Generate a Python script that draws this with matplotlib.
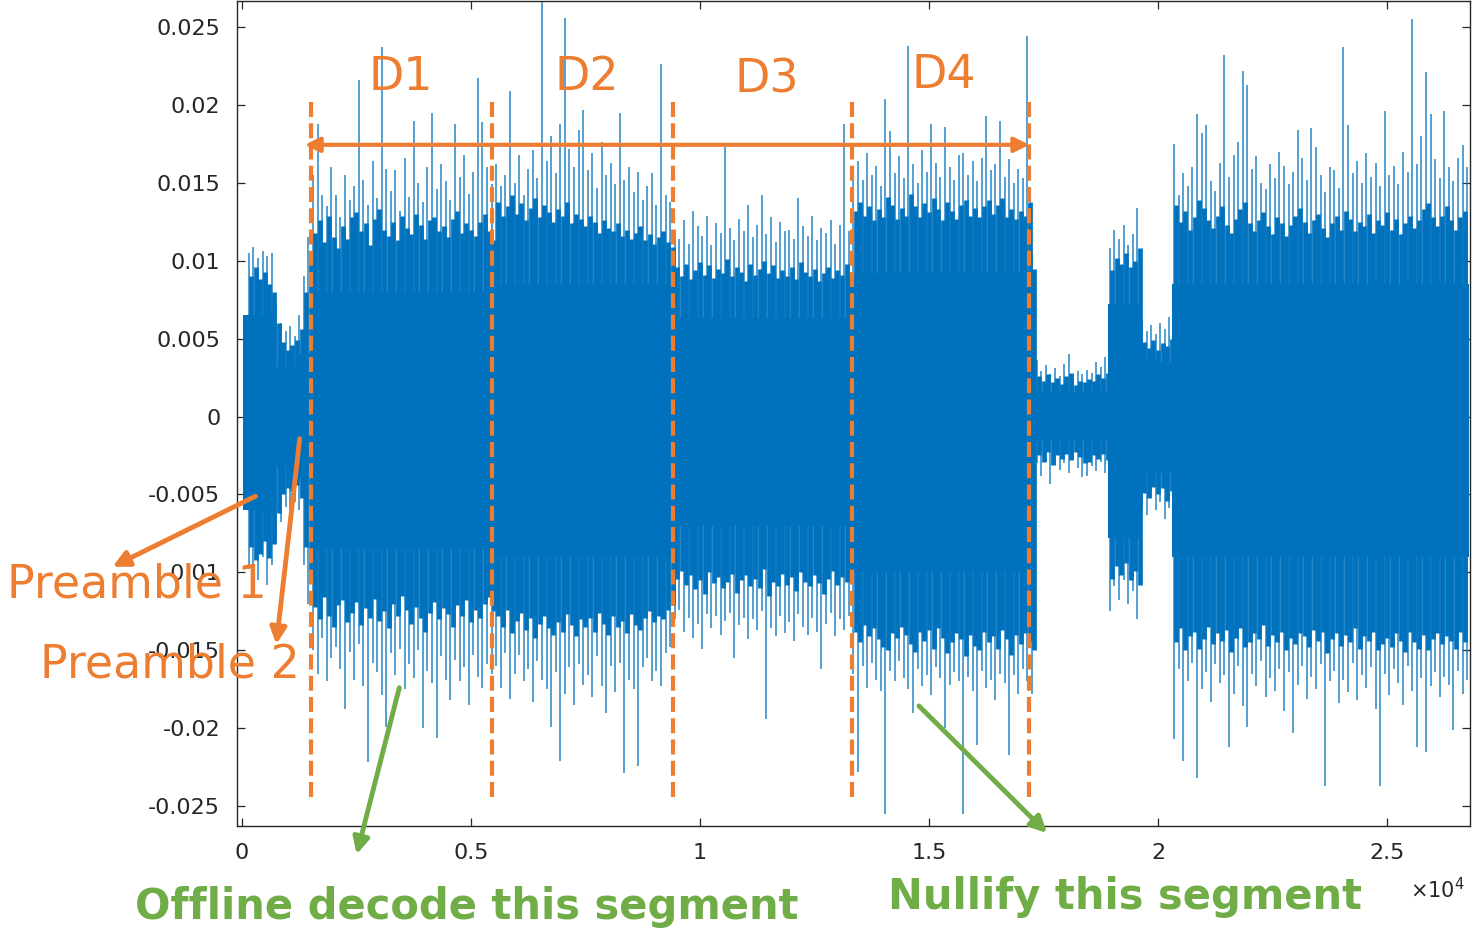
import matplotlib.pyplot as plt
import numpy as np
from matplotlib.patches import FancyArrowPatch

# signal envelope, 100 samples per bin, values in 1e-3
seg_bins = [7, 5, 3, 40, 39, 39, 40, 16, 7, 7, 65]
core_hi = [6.5, 3.2, 4.0, 8.0, 8.5, 6.3, 9.2, 1.5, 7.2, 3.5, 8.5]
core_lo = [-6.0, -3.2, -4.0, -8.5, -9.0, -7.0, -10.0, -1.5, -7.8, -3.6, -9.0]

# outer peaks (thin spikes)
top_pre1a = [2.5, 10.5, 10.9, 10.2, 10.6, 10.3, 10.5]
bot_pre1a = [-2.5, -9.8, -11.2, -10.5, -9.0, -10.8, -9.5]
top_pre1b = [7.2, 6.0, 5.5, 5.8, 5.2]
bot_pre1b = [-8.0, -6.8, -5.8, -6.2, -5.5]
top_pre2 = [6.5, 9.0, 11.5]
bot_pre2 = [-6.0, -9.5, -12.0]
top_d1 = [15.5, 18.8, 14.2, 13.5, 16.0, 14.2, 12.8, 15.5, 13.9, 14.8,
          21.6, 15.2, 13.6, 16.4, 14.0, 23.7, 15.9, 14.5, 15.8, 13.2,
          16.6, 14.1, 19.0, 15.0, 13.8, 16.0, 19.5, 14.6, 16.2, 15.1,
          13.9, 18.8, 15.4, 16.8, 14.3, 15.7, 21.7, 18.9, 16.0, 14.9]
bot_d1 = [-15.0, -16.5, -14.2, -17.0, -15.5, -14.8, -16.2, -18.8, -15.1, -16.9,
          -14.6, -17.3, -22.2, -15.8, -16.4, -17.9, -19.9, -15.2, -16.6, -14.9,
          -17.5, -15.9, -16.8, -15.0, -20.0, -16.3, -17.1, -20.6, -15.4, -16.9,
          -18.2, -15.6, -17.0, -16.1, -18.5, -15.3, -16.7, -17.4, -15.9, -16.5]
top_d2 = [16.2, 14.8, 15.5, 20.9, 15.0, 16.8, 14.2, 15.9, 17.1, 15.3,
          26.8, 16.4, 18.0, 15.6, 18.8, 25.6, 17.2, 16.0, 18.4, 19.7,
          15.8, 16.9, 14.7, 17.6, 15.5, 16.3, 14.9, 19.5, 15.2, 16.0,
          14.4, 15.7, 13.9, 14.8, 15.6, 13.6, 22.6, 14.2, 13.8]
bot_d2 = [-16.0, -17.4, -15.2, -18.1, -16.5, -15.3, -17.0, -16.2, -18.3, -15.7,
          -16.9, -17.5, -19.9, -16.4, -22.1, -17.8, -16.1, -18.5, -15.9, -17.2,
          -16.6, -18.0, -15.4, -17.3, -19.0, -16.0, -17.7, -15.8, -22.9, -16.9,
          -17.5, -22.4, -16.1, -15.5, -17.0, -16.3, -17.3, -15.2, -14.8]
top_d3 = [12.0, 11.4, 12.6, 11.1, 13.2, 12.2, 11.6, 12.9, 11.0, 12.4,
          11.8, 17.3, 12.1, 11.3, 12.7, 11.9, 13.6, 11.5, 12.3, 14.2,
          11.7, 12.8, 11.2, 12.5, 11.9, 12.0, 11.4, 14.0, 12.2, 11.6,
          12.9, 11.3, 12.1, 11.8, 12.6, 11.1, 12.3, 18.8, 11.9]
bot_d3 = [-13.0, -12.4, -13.8, -12.9, -14.2, -13.3, -14.9, -12.7, -13.6, -12.8,
          -14.0, -13.1, -12.6, -15.5, -13.4, -12.9, -14.3, -13.0, -13.7, -12.5,
          -19.4, -13.6, -14.1, -12.8, -13.9, -13.2, -14.4, -12.7, -13.5, -14.0,
          -12.9, -13.8, -16.2, -13.3, -12.6, -14.1, -13.0, -13.7, -12.8]
top_d4 = [15.8, 16.4, 15.2, 16.9, 15.5, 16.1, 14.8, 20.4, 18.3, 15.6,
          16.7, 15.3, 23.8, 16.2, 15.0, 17.1, 15.7, 18.8, 16.3, 15.4,
          18.6, 16.0, 15.2, 16.8, 16.9, 15.5, 16.4, 15.1, 16.6, 19.3,
          15.8, 16.2, 19.0, 15.4, 16.5, 15.0, 15.9, 15.3, 24.4, 10.4]
bot_d4 = [-16.5, -22.8, -16.0, -17.4, -15.8, -16.9, -17.6, -25.5, -16.3, -17.0,
          -15.7, -16.8, -17.5, -19.0, -16.2, -17.3, -16.6, -17.9, -16.1, -16.8,
          -20.0, -17.2, -16.4, -17.0, -25.5, -16.7, -17.6, -21.1, -16.3, -17.4,
          -16.9, -18.2, -16.5, -17.1, -21.7, -16.6, -17.8, -16.2, -17.0, -17.8]
top_quiet = [3.6, 2.9, 3.3, 2.7, 3.1, 2.6, 3.4, 4.0, 2.5, 2.9, 2.7, 3.0, 2.8, 3.5, 3.2, 3.8]
bot_quiet = [-3.0, -3.8, -2.9, -4.3, -3.1, -3.4, -3.0, -3.6, -2.8, -3.3, -3.9, -3.8, -3.2, -3.5, -2.9, -3.6]
top_mid = [10.8, 12.0, 11.4, 12.3, 11.0, 11.7, 13.4]
bot_mid = [-12.5, -10.9, -11.8, -10.5, -12.0, -11.2, -13.0]
top_lowmid = [6.2, 5.5, 5.9, 5.3, 6.0, 5.6, 6.4]
bot_lowmid = [-5.8, -6.3, -5.2, -6.0, -5.5, -6.6, -5.9]
top_tail = [17.5, 14.2, 15.6, 14.8, 16.0, 19.4, 18.2, 18.7, 15.1, 14.5,
            16.3, 23.2, 15.4, 16.8, 17.6, 22.2, 21.3, 15.9, 16.7, 15.0,
            14.6, 16.2, 15.3, 17.0, 16.1, 14.9, 15.7, 18.4, 16.6, 15.2,
            18.5, 17.3, 15.5, 14.4, 16.0, 15.8, 14.7, 23.7, 18.7, 15.6,
            16.4, 15.0, 16.9, 15.4, 16.3, 14.8, 19.6, 15.5, 16.1, 14.9,
            17.0, 15.7, 25.5, 16.2, 18.0, 22.1, 19.4, 16.5, 15.3, 19.6,
            16.0, 15.1, 16.6, 17.4, 16.0]
bot_tail = [-20.7, -16.2, -22.1, -17.0, -15.8, -23.2, -17.5, -16.4, -18.3, -15.9,
            -17.1, -16.6, -21.2, -17.8, -16.0, -18.6, -19.9, -16.5, -17.3, -15.7,
            -18.0, -16.8, -17.6, -16.2, -18.9, -16.4, -20.3, -17.2, -16.0, -18.1,
            -16.7, -17.5, -15.9, -23.7, -17.0, -16.3, -18.4, -16.9, -17.7, -15.8,
            -18.2, -16.6, -17.4, -16.1, -18.8, -23.7, -16.5, -17.9, -16.2, -17.1,
            -18.5, -16.0, -17.6, -21.2, -16.8, -21.5, -17.3, -16.4, -18.0, -16.7,
            -17.2, -20.1, -16.3, -17.8, -16.9]

# inner peaks (dense part of the trace), same bins shifted by half a bin
in_top_pre1a = [2.0, 9.0, 9.6, 8.8, 9.3, 8.5, 8.0]
in_bot_pre1a = [-2.0, -8.4, -9.2, -8.8, -8.0, -9.1, -8.2]
in_top_pre1b = [6.0, 4.8, 4.3, 4.6, 4.9]
in_bot_pre1b = [-6.2, -5.0, -4.6, -4.8, -4.4]
in_top_pre2 = [5.6, 8.0, 10.2]
in_bot_pre2 = [-5.2, -8.4, -10.5]
in_top_d1 = [11.8, 12.6, 11.2, 12.9, 11.5, 10.8, 12.2, 11.4, 12.8, 13.1,
             11.9, 12.4, 11.0, 12.7, 13.3, 12.0, 11.6, 12.5, 11.3, 12.9,
             12.1, 11.7, 13.0, 12.3, 11.4, 12.6, 12.8, 11.9, 12.2, 11.5,
             12.7, 13.2, 11.8, 12.4, 12.0, 11.6, 12.5, 13.0, 11.9, 11.3]
in_bot_d1 = [-12.2, -13.0, -11.6, -12.8, -13.5, -12.1, -11.8, -13.2, -12.6, -11.9,
             -13.4, -12.3, -12.9, -11.7, -13.1, -12.5, -13.6, -12.0, -12.8, -11.5,
             -12.4, -13.3, -12.2, -12.9, -13.8, -12.6, -11.9, -13.0, -12.3, -12.7,
             -13.5, -12.1, -12.8, -11.8, -13.2, -12.4, -12.9, -12.0, -11.6, -12.5]
in_top_d2 = [13.8, 12.9, 13.5, 14.2, 13.0, 13.7, 12.6, 13.4, 14.0, 12.8,
             13.6, 13.1, 12.5, 13.3, 12.9, 13.8, 12.4, 13.0, 12.7, 12.2,
             12.9, 12.5, 11.8, 12.6, 12.1, 11.9, 12.4, 11.6, 12.0, 11.4,
             11.8, 12.2, 11.3, 11.7, 11.1, 11.5, 11.9, 11.2, 10.9]
in_bot_d2 = [-12.8, -13.5, -12.4, -13.9, -13.1, -12.6, -13.7, -12.9, -14.2, -13.3,
             -12.8, -13.6, -14.0, -13.2, -13.8, -12.7, -13.4, -14.1, -13.0, -13.5,
             -12.9, -13.8, -12.6, -13.3, -14.0, -12.8, -13.5, -13.1, -13.9, -12.7,
             -13.4, -13.7, -12.9, -12.5, -13.2, -12.8, -13.0, -12.4, -12.1]
in_top_d3 = [9.6, 9.0, 9.8, 8.8, 9.4, 9.9, 9.1, 9.7, 8.9, 9.5,
             9.2, 10.1, 9.0, 9.6, 9.3, 8.7, 9.8, 9.1, 9.5, 10.0,
             9.2, 9.7, 8.9, 9.4, 9.0, 9.6, 8.8, 9.9, 9.3, 9.0,
             9.5, 8.7, 9.2, 9.6, 8.9, 9.4, 9.1, 9.8, 9.0]
in_bot_d3 = [-10.4, -9.9, -10.8, -10.2, -11.1, -10.5, -11.4, -10.0, -10.7, -10.3,
             -11.0, -10.6, -10.1, -11.3, -10.5, -10.2, -10.9, -10.4, -11.0, -9.8,
             -11.5, -10.6, -10.9, -10.1, -10.8, -10.3, -11.2, -10.0, -10.6, -10.9,
             -10.2, -10.7, -11.4, -10.4, -9.9, -10.8, -10.3, -10.6, -10.1]
in_top_d4 = [13.2, 13.8, 12.9, 13.5, 12.6, 13.3, 12.8, 14.1, 13.6, 12.7,
             13.4, 12.9, 14.3, 13.5, 12.8, 13.7, 13.1, 14.0, 13.3, 12.6,
             13.8, 13.2, 12.7, 13.6, 13.9, 12.9, 13.4, 12.8, 13.5, 13.9,
             13.0, 13.6, 14.0, 12.8, 13.3, 12.7, 13.2, 12.9, 13.8, 9.5]
in_bot_d4 = [-13.8, -14.5, -13.4, -14.1, -13.6, -14.3, -14.8, -15.0, -13.9, -14.2,
             -13.5, -14.0, -14.6, -15.1, -13.8, -14.4, -13.7, -14.9, -13.6, -14.2,
             -15.2, -14.5, -13.9, -14.3, -15.4, -14.0, -14.7, -15.0, -13.8, -14.5,
             -14.1, -14.9, -13.7, -14.3, -15.3, -14.0, -14.6, -13.9, -14.4, -15.0]
in_top_quiet = [2.6, 2.3, 2.7, 2.2, 2.5, 2.1, 2.6, 2.8, 2.0, 2.3, 2.2, 2.4, 2.3, 2.7, 2.5, 2.8]
in_bot_quiet = [-2.5, -2.9, -2.3, -3.1, -2.5, -2.7, -2.4, -2.8, -2.3, -2.6, -3.0, -2.9, -2.5, -2.7, -2.4, -2.8]
in_top_mid = [9.4, 10.2, 9.8, 10.5, 9.6, 10.0, 10.8]
in_bot_mid = [-10.4, -9.6, -10.2, -9.4, -10.5, -9.9, -10.8]
in_top_lowmid = [4.8, 4.4, 4.9, 4.3, 4.7, 4.5, 5.0]
in_bot_lowmid = [-4.9, -5.2, -4.5, -5.0, -4.6, -5.4, -4.8]
in_top_tail = [13.6, 12.5, 13.2, 12.0, 12.8, 13.9, 13.4, 12.6, 12.1, 12.9,
               13.5, 12.3, 11.8, 12.7, 13.3, 13.8, 12.4, 11.9, 12.6, 13.1,
               12.2, 11.7, 12.8, 12.4, 11.6, 12.3, 12.9, 13.4, 12.5, 11.8,
               12.6, 13.0, 12.1, 11.5, 12.4, 12.9, 12.0, 13.2, 12.7, 11.9,
               12.5, 12.2, 13.0, 11.8, 12.6, 12.3, 13.1, 12.0, 12.7, 11.7,
               12.4, 12.9, 12.1, 12.6, 13.3, 13.7, 12.8, 12.2, 12.9, 13.5,
               12.6, 12.0, 12.8, 13.2, 12.4]
in_bot_tail = [-14.5, -13.6, -15.0, -14.1, -13.8, -14.9, -14.3, -13.5, -14.6, -13.9,
               -14.4, -13.7, -15.1, -14.2, -13.6, -14.8, -14.5, -13.9, -14.3, -13.4,
               -14.7, -14.0, -14.5, -13.8, -15.0, -14.2, -14.6, -13.9, -14.1, -14.8,
               -13.7, -14.4, -13.8, -15.2, -14.3, -13.9, -14.7, -14.0, -14.5, -13.6,
               -14.9, -14.1, -14.4, -13.8, -15.0, -14.6, -14.2, -14.8, -13.9, -14.4,
               -15.1, -13.8, -14.5, -14.9, -14.0, -15.0, -14.3, -13.9, -14.6, -14.1,
               -14.4, -14.9, -13.8, -14.5, -14.2]

boundaries = [1507, 5459, 9410, 13319, 17183]
seg_labels = ['D1', 'D2', 'D3', 'D4']

blue = '#0072BD'
orange = '#ED7D31'
green = '#70AD47'

tops = np.array(top_pre1a + top_pre1b + top_pre2 + top_d1 + top_d2 + top_d3 + top_d4
                + top_quiet + top_mid + top_lowmid + top_tail) * 1e-3
bots = np.array(bot_pre1a + bot_pre1b + bot_pre2 + bot_d1 + bot_d2 + bot_d3 + bot_d4
                + bot_quiet + bot_mid + bot_lowmid + bot_tail) * 1e-3
in_tops = np.array(in_top_pre1a + in_top_pre1b + in_top_pre2 + in_top_d1 + in_top_d2
                   + in_top_d3 + in_top_d4 + in_top_quiet + in_top_mid + in_top_lowmid
                   + in_top_tail) * 1e-3
in_bots = np.array(in_bot_pre1a + in_bot_pre1b + in_bot_pre2 + in_bot_d1 + in_bot_d2
                   + in_bot_d3 + in_bot_d4 + in_bot_quiet + in_bot_mid + in_bot_lowmid
                   + in_bot_tail) * 1e-3
x = np.arange(len(tops)) * 100 + 50
x_in = x[:-1] + 50

W, H = 1473, 932
fig = plt.figure(figsize=(W / 100, H / 100), dpi=100)
ax = fig.add_axes([237 / W, 106 / H, 1233 / W, 825 / H])

# solid core of each segment
edges = np.concatenate([[20], np.cumsum(seg_bins) * 100])
for i in range(len(seg_bins)):
    ax.fill_between([edges[i], edges[i + 1]], core_lo[i] * 1e-3, core_hi[i] * 1e-3,
                    color=blue, lw=0, zorder=2)

# dense inner trace (tiled) and thin outer spikes
ax.vlines(x_in, in_bots[:-1], in_tops[:-1], colors=blue, lw=3.4, zorder=2)
ax.vlines(x, bots, tops, colors=blue, lw=1.3, alpha=0.72, zorder=2)

ax.set_xlim(-109, 26812)
ax.set_ylim(-0.02628, 0.02667)
ax.set_xticks([0, 5000, 10000, 15000, 20000, 25000])
ax.set_xticklabels(['0', '0.5', '1', '1.5', '2', '2.5'])
yt = [0.025, 0.02, 0.015, 0.01, 0.005, 0, -0.005, -0.01, -0.015, -0.02, -0.025]
ax.set_yticks(yt)
ax.set_yticklabels(['0.025', '0.02', '0.015', '0.01', '0.005', '0',
                    '-0.005', '-0.01', '-0.015', '-0.02', '-0.025'])
ax.tick_params(direction='in', length=6, width=0.9, top=True, right=True,
               labelsize=16, colors='#262626', pad=12)
for s in ax.spines.values():
    s.set_color('#262626')
    s.set_linewidth(1.0)
fig.text(1437 / W, 1 - 890 / H, r'$\times10^{4}$', fontsize=15, color='#262626',
         ha='center', va='center')

# segment markers
ax.vlines(boundaries, -0.02442, 0.02045, colors=orange, lw=3,
          linestyles=(0, (3.6, 1.5)), zorder=4)
ax.add_patch(FancyArrowPatch((1310, 0.01744), (17250, 0.01744), arrowstyle='<|-|>',
                             mutation_scale=22, lw=3, color=orange, zorder=5))
for lab, cx, cy in zip(seg_labels, [401, 587, 767, 944], [78, 78, 80, 75]):
    fig.text(cx / W, 1 - cy / H, lab, fontsize=33, color=orange,
             ha='center', va='center')


def arrow(p0, p1, col):
    a = FancyArrowPatch((p0[0] / W, 1 - p0[1] / H), (p1[0] / W, 1 - p1[1] / H),
                        transform=fig.transFigure, arrowstyle='-|>',
                        mutation_scale=24, lw=3.5, color=col, zorder=6)
    fig.add_artist(a)


arrow((258, 495), (110, 568), orange)
arrow((300, 436), (276, 647), orange)
arrow((400, 685), (356, 857), green)
arrow((917, 704), (1049, 835), green)

fig.text(137 / W, 1 - 585 / H, 'Preamble 1', fontsize=33, color=orange,
         ha='center', va='center')
fig.text(170 / W, 1 - 665 / H, 'Preamble 2', fontsize=33, color=orange,
         ha='center', va='center')
fig.text(467 / W, 1 - 907 / H, 'Offline decode this segment', fontsize=30,
         fontweight='bold', color=green, ha='center', va='center')
fig.text(1125 / W, 1 - 897 / H, 'Nullify this segment', fontsize=30,
         fontweight='bold', color=green, ha='center', va='center')

fig.savefig('out.png', dpi=100)
